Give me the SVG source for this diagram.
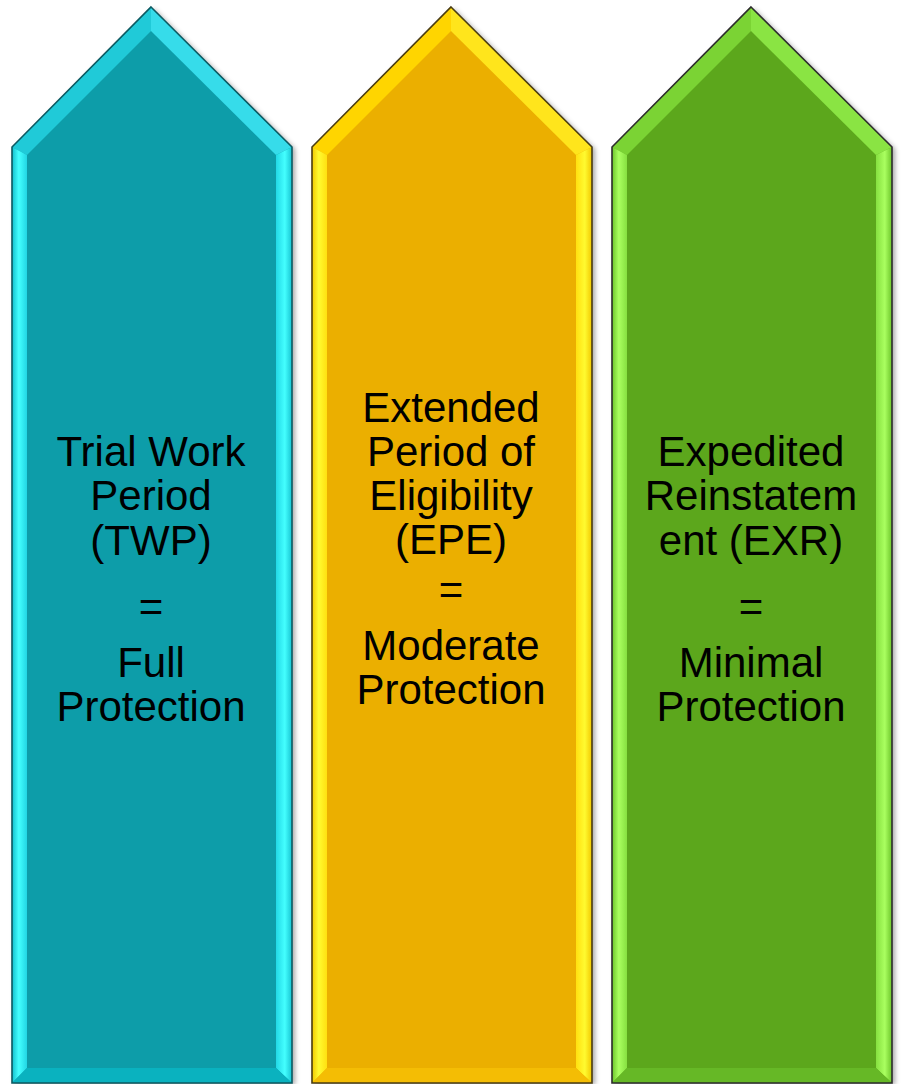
<svg xmlns="http://www.w3.org/2000/svg" width="901" height="1084" viewBox="0 0 901 1084">
  <defs>
    <filter id="sh" x="-10%" y="-5%" width="125%" height="115%">
      <feDropShadow dx="3" dy="2" stdDeviation="2.5" flood-color="#000" flood-opacity="0.35"/>
    </filter>
    <linearGradient id="tL" x1="0" y1="0" x2="1" y2="0">
      <stop offset="0" stop-color="#12BFCD"/><stop offset="0.45" stop-color="#44FFFF"/><stop offset="1" stop-color="#22D6E4"/>
    </linearGradient>
    <linearGradient id="tR" x1="0" y1="0" x2="1" y2="0">
      <stop offset="0" stop-color="#22D8E6"/><stop offset="0.55" stop-color="#44FFFF"/><stop offset="1" stop-color="#17C4D2"/>
    </linearGradient>
    <linearGradient id="yL" x1="0" y1="0" x2="1" y2="0">
      <stop offset="0" stop-color="#F2C800"/><stop offset="0.45" stop-color="#FFFA30"/><stop offset="1" stop-color="#FFE010"/>
    </linearGradient>
    <linearGradient id="yR" x1="0" y1="0" x2="1" y2="0">
      <stop offset="0" stop-color="#FFE010"/><stop offset="0.55" stop-color="#FFFA30"/><stop offset="1" stop-color="#F2C800"/>
    </linearGradient>
    <linearGradient id="gL" x1="0" y1="0" x2="1" y2="0">
      <stop offset="0" stop-color="#6CC52A"/><stop offset="0.45" stop-color="#AAFF60"/><stop offset="1" stop-color="#86E040"/>
    </linearGradient>
    <linearGradient id="gR" x1="0" y1="0" x2="1" y2="0">
      <stop offset="0" stop-color="#86E040"/><stop offset="0.55" stop-color="#AAFF60"/><stop offset="1" stop-color="#6CC52A"/>
    </linearGradient>
  </defs>
  <style>
    .lbl { font-family: "Liberation Sans", Arial, sans-serif; font-size: 42px; fill: #000; text-anchor: middle; }
    .teal .main { fill: #079DA9; } .teal .tl { fill: #20CAD8; } .teal .tr { fill: #36DCEA; } .teal .bt { fill: #0AB2BF; } .teal .ls { fill: url(#tL); } .teal .rs { fill: url(#tR); } .teal .ol { fill: none; stroke: #0C5A62; stroke-width: 1.6; stroke-linejoin: miter; }
    .gold .main { fill: #EBAF05; } .gold .tl { fill: #FFD500; } .gold .tr { fill: #FFE51C; } .gold .bt { fill: #F4BD04; } .gold .ls { fill: url(#yL); } .gold .rs { fill: url(#yR); } .gold .ol { fill: none; stroke: #4A3C12; stroke-width: 1.6; }
    .grn .main { fill: #5BA71F; } .grn .tl { fill: #7BD334; } .grn .tr { fill: #8AE443; } .grn .bt { fill: #66B826; } .grn .ls { fill: url(#gL); } .grn .rs { fill: url(#gR); } .grn .ol { fill: none; stroke: #2C2C2C; stroke-width: 1.6; }
  </style>

  <g id="arrow-twp" class="teal">
    <g filter="url(#sh)">
      <polygon class="main" points="151,7 292,147 292,1083 12,1083 12,147"/>
    </g>
    <polygon class="tl" points="151,7 12,147 27,155 151,31"/>
    <polygon class="tr" points="151,7 151,31 276,155 292,147"/>
    <polygon class="ls" points="12,147 27,155 27,1068 12,1083"/>
    <polygon class="rs" points="292,147 276,155 276,1068 292,1083"/>
    <polygon class="bt" points="12,1083 27,1068 276,1068 292,1083"/>
    <polygon class="ol" points="151,7 292,147 292,1083 12,1083 12,147"/>
    <text class="lbl" x="151" y="466">Trial Work</text>
    <text class="lbl" x="151" y="510">Period</text>
    <text class="lbl" x="151" y="555">(TWP)</text>
    <text class="lbl" x="151" y="621">=</text>
    <text class="lbl" x="151" y="677">Full</text>
    <text class="lbl" x="151" y="721">Protection</text>
  </g>

  <g id="arrow-epe" class="gold" transform="translate(300,0)">
    <g filter="url(#sh)">
      <polygon class="main" points="151,7 292,147 292,1083 12,1083 12,147"/>
    </g>
    <polygon class="tl" points="151,7 12,147 27,155 151,31"/>
    <polygon class="tr" points="151,7 151,31 276,155 292,147"/>
    <polygon class="ls" points="12,147 27,155 27,1068 12,1083"/>
    <polygon class="rs" points="292,147 276,155 276,1068 292,1083"/>
    <polygon class="bt" points="12,1083 27,1068 276,1068 292,1083"/>
    <polygon class="ol" points="151,7 292,147 292,1083 12,1083 12,147"/>
    <text class="lbl" x="151" y="422">Extended</text>
    <text class="lbl" x="151" y="466">Period of</text>
    <text class="lbl" x="151" y="510">Eligibility</text>
    <text class="lbl" x="151" y="554">(EPE)</text>
    <text class="lbl" x="151" y="604">=</text>
    <text class="lbl" x="151" y="660">Moderate</text>
    <text class="lbl" x="151" y="704">Protection</text>
  </g>

  <g id="arrow-exr" class="grn" transform="translate(600,0)">
    <g filter="url(#sh)">
      <polygon class="main" points="151,7 292,147 292,1083 12,1083 12,147"/>
    </g>
    <polygon class="tl" points="151,7 12,147 27,155 151,31"/>
    <polygon class="tr" points="151,7 151,31 276,155 292,147"/>
    <polygon class="ls" points="12,147 27,155 27,1068 12,1083"/>
    <polygon class="rs" points="292,147 276,155 276,1068 292,1083"/>
    <polygon class="bt" points="12,1083 27,1068 276,1068 292,1083"/>
    <polygon class="ol" points="151,7 292,147 292,1083 12,1083 12,147"/>
    <text class="lbl" x="151" y="466">Expedited</text>
    <text class="lbl" x="151" y="510">Reinstatem</text>
    <text class="lbl" x="151" y="555">ent (EXR)</text>
    <text class="lbl" x="151" y="621">=</text>
    <text class="lbl" x="151" y="677">Minimal</text>
    <text class="lbl" x="151" y="721">Protection</text>
  </g>

  <g id="connectors"></g>
</svg>
